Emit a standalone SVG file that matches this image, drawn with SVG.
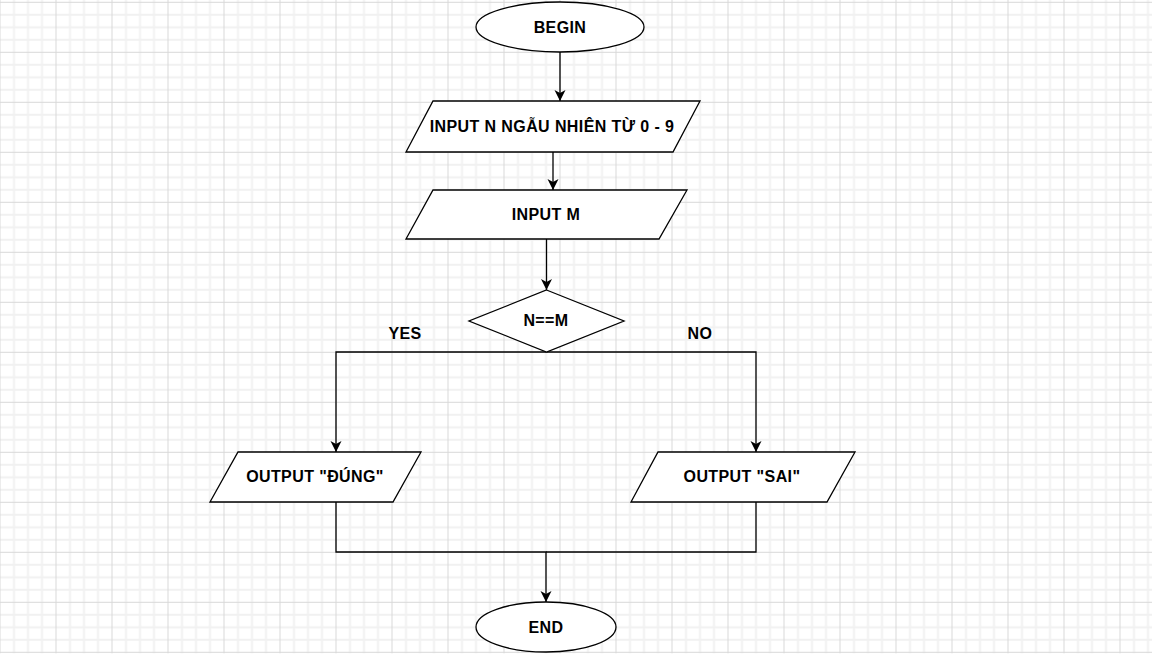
<svg xmlns="http://www.w3.org/2000/svg" width="1152" height="664" viewBox="0 0 1152 664">
<style>
.shape{fill:#ffffff;stroke:#000000;stroke-width:1.3}
.edge{fill:none;stroke:#000000;stroke-width:1.3}
.lbl{font-family:"Liberation Sans",Arial,sans-serif;font-size:16px;font-weight:bold;fill:#000000;text-anchor:middle;letter-spacing:0.4px}
.minor{stroke:#f1f1f1;stroke-width:2}
.major{stroke:#d8d8d8;stroke-width:1}
</style>
<defs>
<pattern id="grid" patternUnits="userSpaceOnUse" x="-0.5" y="1.8" width="56" height="50">
<line class="minor" x1="14.5" y1="0" x2="14.5" y2="50"/>
<line class="minor" x1="28.5" y1="0" x2="28.5" y2="50"/>
<line class="minor" x1="42.5" y1="0" x2="42.5" y2="50"/>
<line class="minor" x1="0" y1="13" x2="56" y2="13"/>
<line class="minor" x1="0" y1="25.5" x2="56" y2="25.5"/>
<line class="minor" x1="0" y1="38" x2="56" y2="38"/>
<line class="major" x1="0.5" y1="0" x2="0.5" y2="50"/>
<line class="major" x1="0" y1="0.5" x2="56" y2="0.5"/>
</pattern>
<marker id="arrow" viewBox="0 0 12 12" refX="11" refY="6" markerWidth="12" markerHeight="12" markerUnits="userSpaceOnUse" orient="auto">
<path d="M0,0.5 L11,6 L0,11.5 L3,6 Z" fill="#000000"/>
</marker>
</defs>
<rect x="0" y="0" width="1152" height="664" fill="#ffffff"/>
<rect x="0" y="0" width="1152" height="653.3" fill="url(#grid)"/>

<g id="connectors">
<path class="edge" d="M560,52 V101" marker-end="url(#arrow)"/>
<path class="edge" d="M553,152 V190" marker-end="url(#arrow)"/>
<path class="edge" d="M546.5,239 V290" marker-end="url(#arrow)"/>
<path class="edge" d="M546.5,352 H336 V452" marker-end="url(#arrow)"/>
<path class="edge" d="M546.5,352 H756 V452" marker-end="url(#arrow)"/>
<path class="edge" d="M336,502 V552 H546 V602" marker-end="url(#arrow)"/>
<path class="edge" d="M756,502 V552 H546"/>
<text class="lbl" x="405" y="339">YES</text>
<text class="lbl" x="700" y="339">NO</text>
</g>

<g id="begin">
<ellipse class="shape" cx="560" cy="27" rx="84" ry="25"/>
<text class="lbl" x="560" y="32.5">BEGIN</text>
</g>

<g id="input-n">
<polygon class="shape" points="433,101 700,101 673,152 406,152"/>
<text class="lbl" x="552" y="132">INPUT N NGẪU NHIÊN TỪ 0 - 9</text>
</g>

<g id="input-m">
<polygon class="shape" points="433,190 687,190 659,239 406,239"/>
<text class="lbl" x="546" y="220">INPUT M</text>
</g>

<g id="decision">
<polygon class="shape" points="546.5,290 624,321 546.5,352 469,321"/>
<text class="lbl" x="546" y="326">N==M</text>
</g>

<g id="output-dung">
<polygon class="shape" points="238,452 421,452 393,502 210,502"/>
<text class="lbl" x="315" y="482">OUTPUT "ĐÚNG"</text>
</g>

<g id="output-sai">
<polygon class="shape" points="658,452 855,452 827,502 631,502"/>
<text class="lbl" x="742" y="482">OUTPUT "SAI"</text>
</g>

<g id="end">
<ellipse class="shape" cx="546" cy="627" rx="70" ry="25"/>
<text class="lbl" x="546" y="632.5">END</text>
</g>
</svg>
